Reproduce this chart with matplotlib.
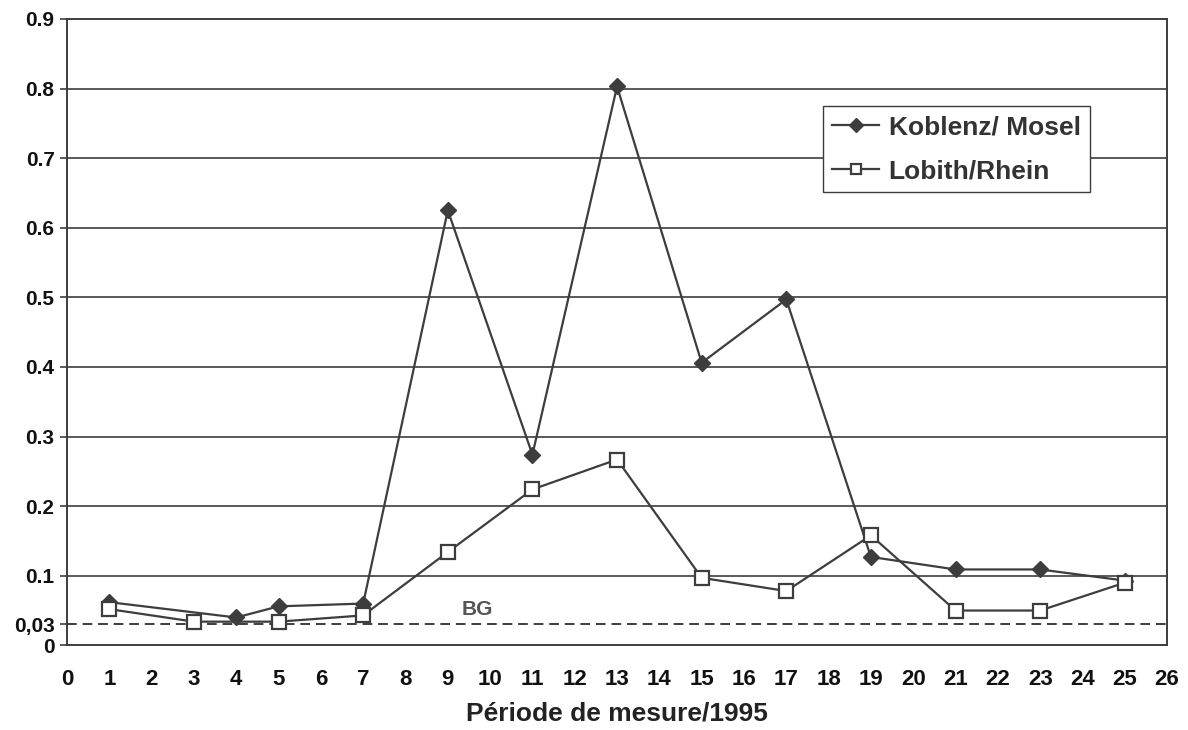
import matplotlib.pyplot as plt

plt.rcParams['font.family'] = ['Liberation Sans', 'DejaVu Sans']
plt.rcParams['font.weight'] = 'bold'

koblenz_x = [1, 4, 5, 7, 9, 11, 13, 15, 17, 19, 21, 23, 25]
koblenz_y = [0.062, 0.040, 0.056, 0.060, 0.625, 0.274, 0.803, 0.406, 0.497, 0.127, 0.109, 0.109, 0.093]
lobith_x = [1, 3, 5, 7, 9, 11, 13, 15, 17, 19, 21, 23, 25]
lobith_y = [0.052, 0.034, 0.034, 0.043, 0.134, 0.224, 0.267, 0.097, 0.078, 0.158, 0.050, 0.050, 0.090]
bg_level = 0.03
y_ticks = [0, 0.03, 0.1, 0.2, 0.3, 0.4, 0.5, 0.6, 0.7, 0.8, 0.9]
y_labels = ['0', '0,03', '0.1', '0.2', '0.3', '0.4', '0.5', '0.6', '0.7', '0.8', '0.9']
x_ticks = list(range(0, 27))

col = '#3d3d3d'

fig = plt.figure(figsize=(11.88, 7.3), dpi=100)
ax = fig.add_axes([0.0564, 0.116, 0.926, 0.858])

for v in [0.1, 0.2, 0.3, 0.4, 0.5, 0.6, 0.7, 0.8]:
    ax.axhline(v, color=col, lw=1.2, zorder=1)
ax.axhline(bg_level, color=col, lw=1.4, ls=(0, (5, 3)), zorder=1)

ax.plot(koblenz_x, koblenz_y, color=col, lw=1.6, marker='D', ms=8,
        mfc=col, mec=col, label='Koblenz/ Mosel', zorder=3)
ax.plot(lobith_x, lobith_y, color=col, lw=1.6, marker='s', ms=9.5,
        mfc='white', mec=col, mew=1.6, label='Lobith/Rhein', zorder=4)

ax.text(9.7, 0.038, 'BG', fontsize=15, color='#555555', ha='center', va='bottom',
        fontweight='bold')

ax.set_xlim(0, 26)
ax.set_ylim(0, 0.9)
ax.set_xticks(x_ticks)
ax.set_xticklabels([str(t) for t in x_ticks])
ax.set_yticks(y_ticks)
ax.set_yticklabels(y_labels)
ax.tick_params(axis='x', length=0, pad=17, labelsize=16, labelcolor='#111111')
ax.tick_params(axis='y', length=5, width=1.2, color=col, pad=4, labelsize=15,
               labelcolor='#111111')
for lbl in ax.get_xticklabels() + ax.get_yticklabels():
    lbl.set_fontweight('bold')
for s in ax.spines.values():
    s.set_color(col)
    s.set_linewidth(1.4)

ax.set_xlabel('Période de mesure/1995', fontsize=19, fontweight='bold',
              labelpad=8, color='#222222')

leg = ax.legend(loc='upper left', bbox_to_anchor=(0.687, 0.861), fontsize=19,
                frameon=True, fancybox=False, handlelength=1.8, handletextpad=0.35,
                borderpad=0.35, labelspacing=0.75, borderaxespad=0)
leg.get_frame().set_edgecolor(col)
leg.get_frame().set_linewidth(1.0)
leg.get_frame().set_alpha(1)
for h in leg.legend_handles:
    h.set_markersize(7)
for t in leg.get_texts():
    t.set_color('#333333')
    t.set_fontweight('bold')

fig.savefig('out.png', dpi=100)
